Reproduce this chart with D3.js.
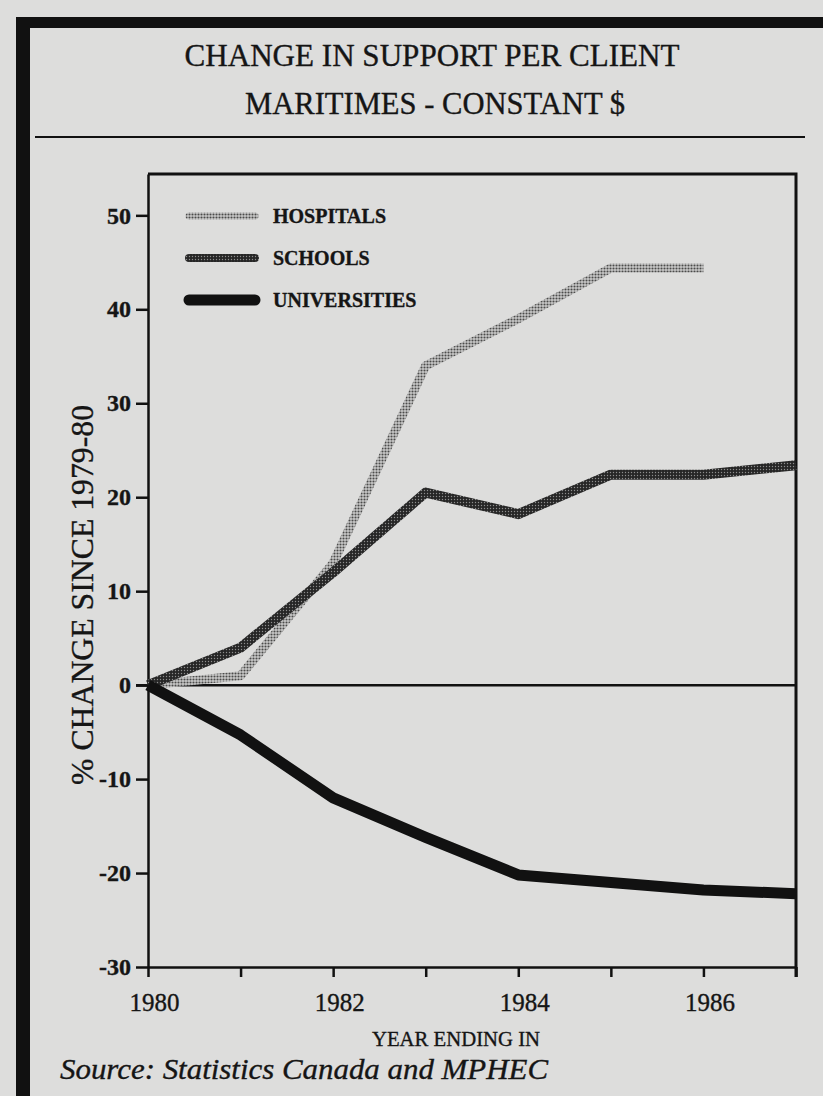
<!DOCTYPE html>
<html>
<head>
<meta charset="utf-8">
<script src="https://cdn.jsdelivr.net/npm/d3@7"></script>
<style>
    html, body { margin: 0; padding: 0; background: #dddddc; }
    svg { display: block; }
    text { font-family: "Liberation Serif", "Times New Roman", Times, serif; fill: #151515;
           stroke: #151515; stroke-width: 0.35; }
</style>
</head>
<body>
<div id="chart"></div>
<script>
// Data (% change since 1979-80, constant $)
var years        = [1980, 1981, 1982, 1983, 1984, 1985, 1986, 1987];
var hospitals    = [0, 1, 13, 34, 39, 44.4, 44.4];
var schools      = [0, 4, 12, 20.5, 18.2, 22.4, 22.4, 23.4];
var universities = [0, -5.3, -12, -16.2, -20.2, -21, -21.8, -22.2];
var yTicks       = [-30, -20, -10, 0, 10, 20, 30, 40, 50];
var xLabels      = [1980, 1982, 1984, 1986];
var seriesNames  = ["HOSPITALS", "SCHOOLS", "UNIVERSITIES"];

var W = 823, H = 1096;
var plotLeft = 148, plotRight = 796, plotTop = 174, plotBottom = 967;

var svg = d3.select("#chart").append("svg").attr("width", W).attr("height", H);

// halftone patterns, the way the paper printed the two grey lines
var defs = svg.append("defs");
var hp = defs.append("pattern").attr("id", "hosp").attr("patternUnits", "userSpaceOnUse")
             .attr("width", 3).attr("height", 3);
hp.append("rect").attr("width", 3).attr("height", 3).attr("fill", "#c9c9c8");
hp.append("circle").attr("cx", 1.5).attr("cy", 1.5).attr("r", 1.05).attr("fill", "#4b4b4b");
var sp = defs.append("pattern").attr("id", "school").attr("patternUnits", "userSpaceOnUse")
             .attr("width", 3).attr("height", 3);
sp.append("rect").attr("width", 3).attr("height", 3).attr("fill", "#262626");
sp.append("circle").attr("cx", 1.5).attr("cy", 1.5).attr("r", 0.7).attr("fill", "#8d8d8d");

// frame: thick bar along the top and down the left side
svg.append("path")
    .attr("d", "M16,17 L823,17 L823,28 L30,28 L30,1096 L16,1096 Z")
    .attr("fill", "#111");

// titles
svg.append("text").attr("x", 432).attr("y", 66).attr("text-anchor", "middle")
    .attr("font-size", 31).attr("textLength", 495).attr("lengthAdjust", "spacingAndGlyphs")
    .text("CHANGE IN SUPPORT PER CLIENT");
svg.append("text").attr("x", 435).attr("y", 114).attr("text-anchor", "middle")
    .attr("font-size", 31).attr("textLength", 380).attr("lengthAdjust", "spacingAndGlyphs")
    .text("MARITIMES - CONSTANT $");
svg.append("line").attr("x1", 35).attr("x2", 805).attr("y1", 137).attr("y2", 137)
    .attr("stroke", "#111").attr("stroke-width", 2);

var x = d3.scaleLinear().domain([1980, 1987]).range([plotLeft, plotRight]);
var y = d3.scaleLinear().domain([-30, 54.4]).range([plotBottom, plotTop]);

// y axis (plain hyphen for the minus sign, as printed)
var gy = svg.append("g").attr("transform", "translate(" + plotLeft + ",0)")
    .call(d3.axisLeft(y).tickValues(yTicks).tickSize(12).tickSizeOuter(0).tickPadding(5)
             .tickFormat(function(d) { return String(d); }));
gy.select(".domain").attr("stroke", "#111").attr("stroke-width", 2.5);
gy.selectAll(".tick line").attr("stroke", "#111").attr("stroke-width", 2.5);
gy.selectAll(".tick text").attr("font-size", 24).attr("fill", "#151515")
    .attr("font-family", "Liberation Serif").attr("font-weight", "bold");

// x axis
var gx = svg.append("g").attr("transform", "translate(0," + plotBottom + ")")
    .call(d3.axisBottom(x).tickValues(years).tickSize(10).tickSizeOuter(0).tickPadding(16)
             .tickFormat(function(d) { return xLabels.indexOf(d) >= 0 ? d : ""; }));
gx.select(".domain").attr("stroke", "#111").attr("stroke-width", 2.5);
gx.selectAll(".tick line").attr("stroke", "#111").attr("stroke-width", 2.5);
gx.selectAll(".tick text").attr("font-size", 25).attr("fill", "#151515")
    .attr("font-family", "Liberation Serif").attr("dx", 6);

// top and right edges of the plot box
svg.append("path")
    .attr("d", "M" + plotLeft + "," + plotTop + " L" + plotRight + "," + plotTop +
               " L" + plotRight + "," + (plotBottom + 10))
    .attr("fill", "none").attr("stroke", "#111").attr("stroke-width", 3);

// zero line
svg.append("line").attr("x1", x(1980) - 12).attr("x2", plotRight).attr("y1", y(0)).attr("y2", y(0))
    .attr("stroke", "#111").attr("stroke-width", 2.5);

// axis titles
svg.append("text").attr("transform", "translate(93,595) rotate(-90)").attr("text-anchor", "middle")
    .attr("font-size", 31).attr("textLength", 380).attr("lengthAdjust", "spacingAndGlyphs")
    .text("% CHANGE SINCE 1979-80");
svg.append("text").attr("x", 456).attr("y", 1046).attr("text-anchor", "middle")
    .attr("font-size", 22).attr("textLength", 168).attr("lengthAdjust", "spacingAndGlyphs")
    .text("YEAR ENDING IN");
svg.append("text").attr("x", 60).attr("y", 1079).attr("font-size", 30).attr("font-style", "italic")
    .attr("textLength", 488).attr("lengthAdjust", "spacingAndGlyphs")
    .text("Source: Statistics Canada and MPHEC");

// series lines
var line = d3.line()
    .x(function(d, i) { return x(years[i]); })
    .y(function(d) { return y(d); });

var series = [
    {values: hospitals,    stroke: "url(#hosp)",   width: 9},
    {values: schools,      stroke: "url(#school)", width: 10},
    {values: universities, stroke: "#111",         width: 11}
];

svg.append("g").selectAll("path").data(series).enter().append("path")
    .attr("d", function(d) { return line(d.values); })
    .attr("fill", "none")
    .attr("stroke", function(d) { return d.stroke; })
    .attr("stroke-width", function(d) { return d.width; })
    .attr("stroke-linejoin", "round");

// legend
var legend = svg.append("g").attr("transform", "translate(185,216)");
var items = legend.selectAll("g").data(series).enter().append("g")
    .attr("transform", function(d, i) { return "translate(0," + i * 42 + ")"; });
items.append("line").attr("x1", 4).attr("x2", 70)
    .attr("stroke", function(d) { return d.stroke; })
    .attr("stroke-width", function(d, i) { return [7, 8, 11][i]; })
    .attr("stroke-linecap", "round");
items.append("text").attr("x", 88).attr("y", 7)
    .attr("font-size", 20).attr("font-weight", "bold")
    .text(function(d, i) { return seriesNames[i]; });
</script>
</body>
</html>
